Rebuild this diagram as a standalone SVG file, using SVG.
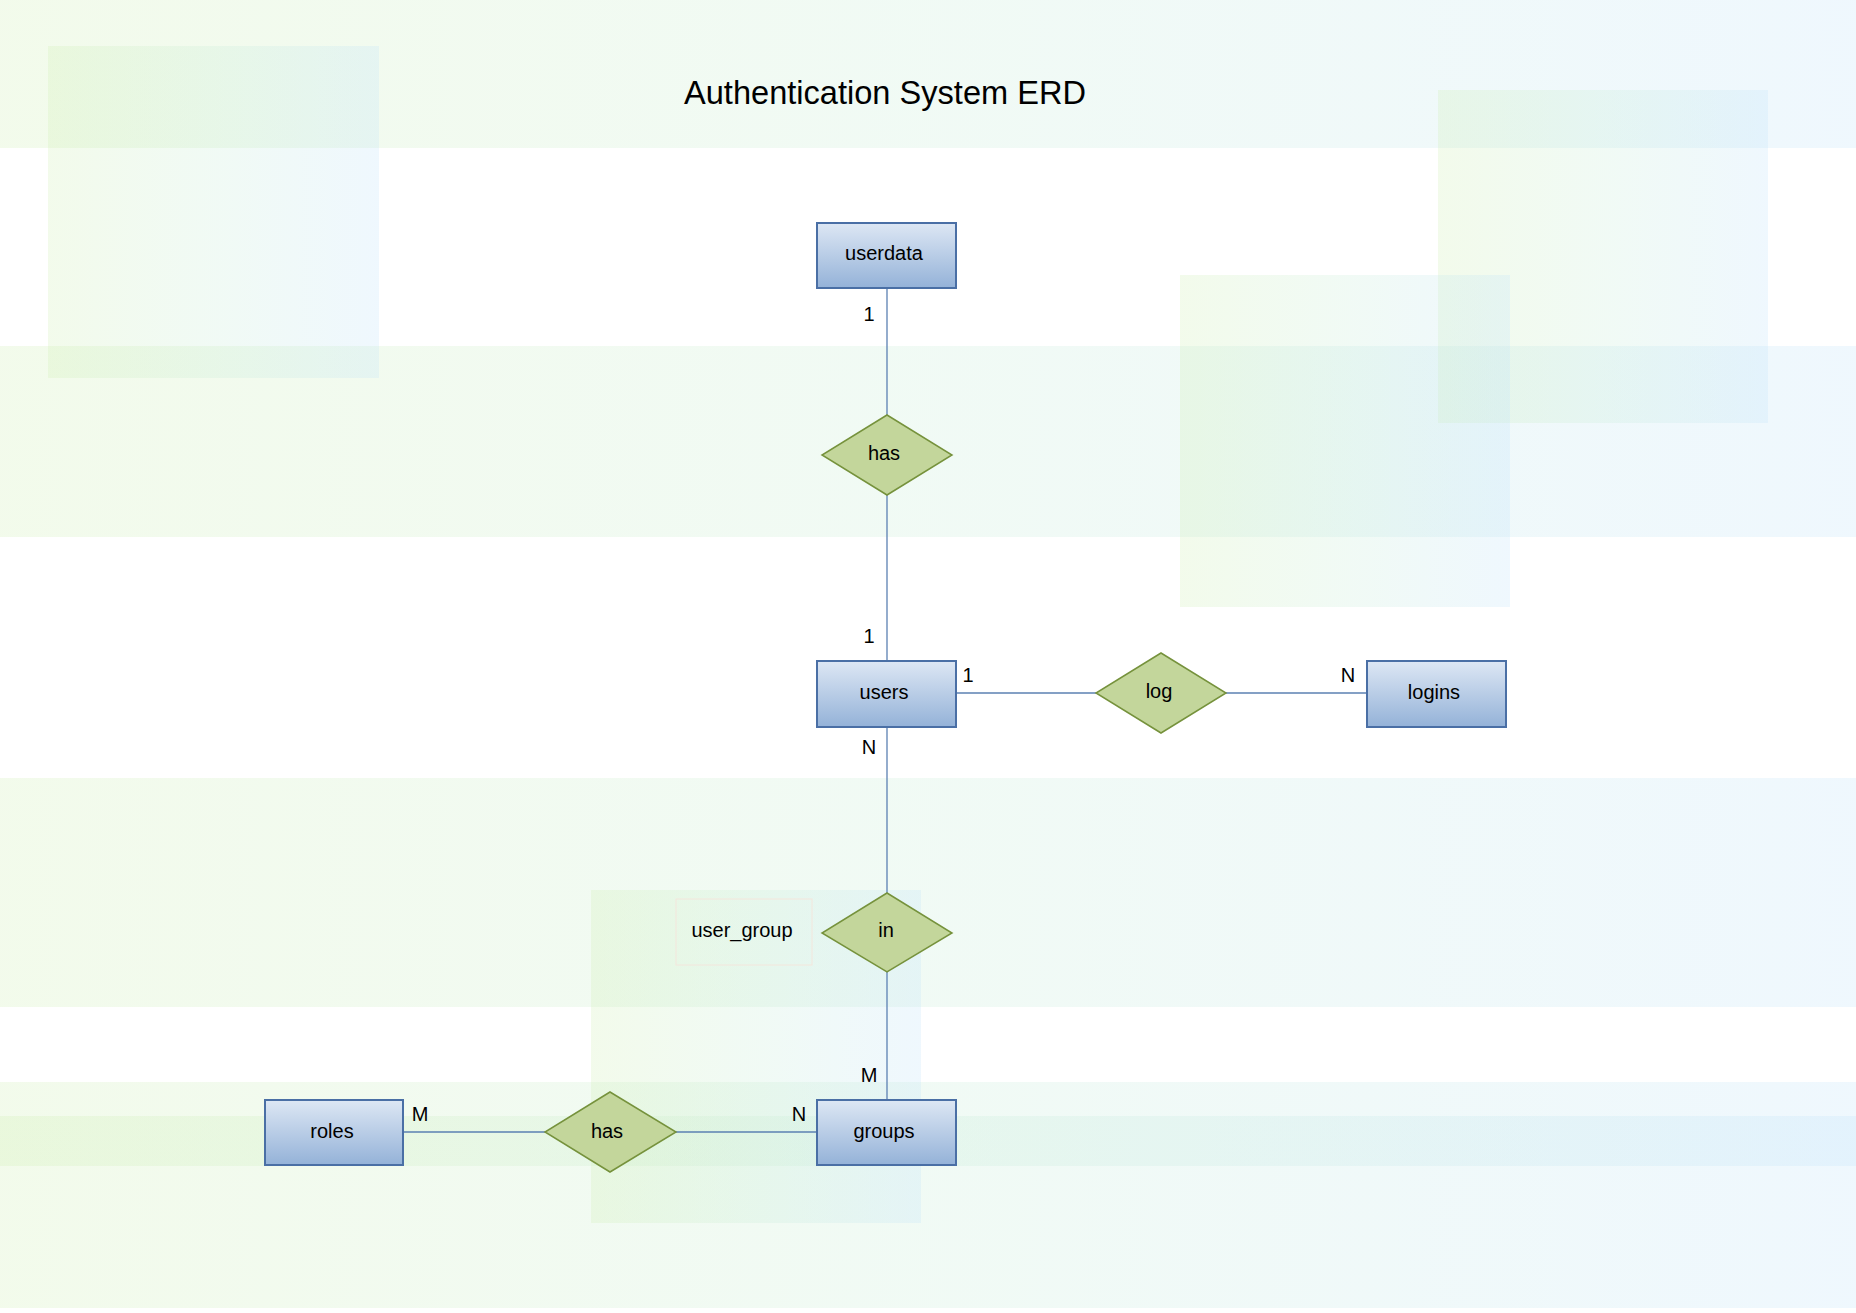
<svg xmlns="http://www.w3.org/2000/svg" width="1856" height="1313" viewBox="0 0 1856 1313">
<defs>
<linearGradient id="bg" x1="0" y1="0" x2="1" y2="0">
<stop offset="0" stop-color="#cdeeb0"/>
<stop offset="0.5" stop-color="#c6ecd6"/>
<stop offset="1" stop-color="#bfe2fa"/>
</linearGradient>
<linearGradient id="ent" x1="0" y1="0" x2="0" y2="1">
<stop offset="0" stop-color="#dde7f4"/>
<stop offset="1" stop-color="#94b2d8"/>
</linearGradient>
<style>
.bgs{fill:url(#bg);opacity:0.25}
.ent rect{fill:url(#ent);stroke:#4a6fa5;stroke-width:2}
.rel polygon{fill:#c3d69b;stroke:#76923c;stroke-width:1.5}
.lbl{font-family:"Liberation Sans",Arial,sans-serif;font-size:20px;fill:#000;text-anchor:middle;dominant-baseline:central}
.card{font-family:"Liberation Sans",Arial,sans-serif;font-size:20px;fill:#000;text-anchor:middle;dominant-baseline:central}
.conn line{stroke:#5b80b2;stroke-width:1.3}
</style>
</defs>
<rect width="1856" height="1313" fill="#ffffff"/>
<g id="background">
<rect class="bgs" x="0" y="0" width="1856" height="148"/>
<rect class="bgs" x="0" y="346" width="1856" height="191"/>
<rect class="bgs" x="0" y="778" width="1856" height="229"/>
<rect class="bgs" x="0" y="1082" width="1856" height="84"/>
<rect class="bgs" x="0" y="1116" width="1856" height="192"/>
<rect class="bgs" x="48" y="46" width="331" height="332"/>
<rect class="bgs" x="1438" y="90" width="330" height="333"/>
<rect class="bgs" x="1180" y="275" width="330" height="332"/>
<rect class="bgs" x="591" y="890" width="330" height="333"/>
</g>
<text x="885" y="92" style="font-family:'Liberation Sans',Arial,sans-serif;font-size:32.6px;fill:#000;text-anchor:middle;dominant-baseline:central">Authentication System ERD</text>
<g id="connectors" class="conn">
<line x1="887" y1="288" x2="887" y2="415"/>
<line x1="887" y1="495" x2="887" y2="661"/>
<line x1="956" y1="693" x2="1096" y2="693"/>
<line x1="1226" y1="693" x2="1367" y2="693"/>
<line x1="887" y1="727" x2="887" y2="893"/>
<line x1="887" y1="972" x2="887" y2="1100"/>
<line x1="403" y1="1132" x2="545" y2="1132"/>
<line x1="676" y1="1132" x2="817" y2="1132"/>
</g>
<g id="cardinalities">
<text class="card" x="869" y="314">1</text>
<text class="card" x="869" y="636">1</text>
<text class="card" x="968" y="675">1</text>
<text class="card" x="1348" y="675">N</text>
<text class="card" x="869" y="747">N</text>
<text class="card" x="869" y="1075">M</text>
<text class="card" x="420" y="1114">M</text>
<text class="card" x="799" y="1114">N</text>
</g>
<g id="userdata" class="ent"><rect x="817" y="223" width="139" height="65"/><text class="lbl" x="884" y="253">userdata</text></g>
<g id="users" class="ent"><rect x="817" y="661" width="139" height="66"/><text class="lbl" x="884" y="692">users</text></g>
<g id="logins" class="ent"><rect x="1367" y="661" width="139" height="66"/><text class="lbl" x="1434" y="692">logins</text></g>
<g id="roles" class="ent"><rect x="265" y="1100" width="138" height="65"/><text class="lbl" x="332" y="1131">roles</text></g>
<g id="groups" class="ent"><rect x="817" y="1100" width="139" height="65"/><text class="lbl" x="884" y="1131">groups</text></g>
<g id="has_top" class="rel"><polygon points="887,415 952,455 887,495 822,455"/><text class="lbl" x="884" y="453">has</text></g>
<g id="log" class="rel"><polygon points="1161,653 1226,693 1161,733 1096,693"/><text class="lbl" x="1159" y="691">log</text></g>
<g id="in" class="rel"><polygon points="887,893 952,933 887,972 822,933"/><text class="lbl" x="886" y="930">in</text></g>
<g id="has_bottom" class="rel"><polygon points="610,1092 676,1132 610,1172 545,1132"/><text class="lbl" x="607" y="1131">has</text></g>
<g id="user_group"><rect x="676" y="899" width="136" height="66" fill="none" stroke="#f3e6dc" stroke-width="1"/><text class="lbl" x="742" y="930">user_group</text></g>
</svg>
